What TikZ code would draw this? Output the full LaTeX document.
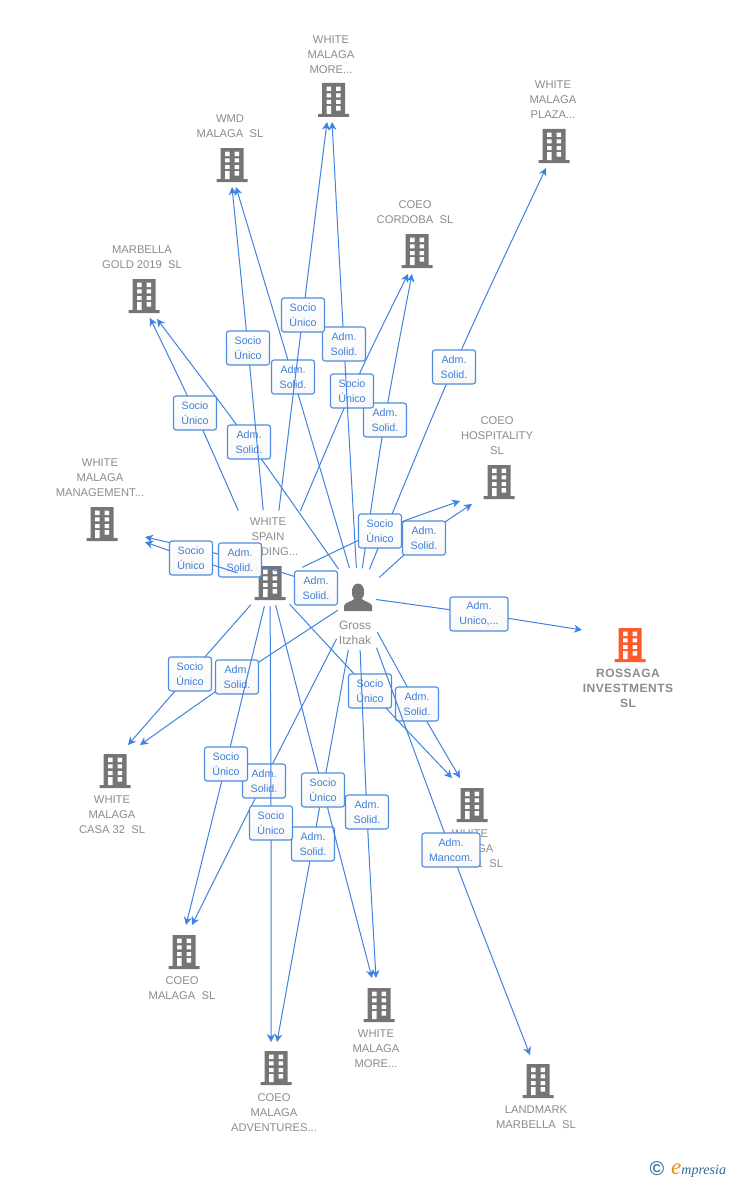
\documentclass[tikz,border=0pt]{standalone}
\usepackage{fontspec}
\setmainfont{Liberation Sans}
\newfontfamily\logofont{Liberation Serif}
\newfontfamily\spacedbold[LetterSpace=4,BoldFont={Liberation Sans Bold}]{Liberation Sans}
\usetikzlibrary{calc,arrows.meta,shadings}
\definecolor{edgeblue}{HTML}{3F82E0}
\definecolor{lbltext}{HTML}{3F7FD8}
\definecolor{lblrule}{HTML}{4E8CDF}
\definecolor{icongrey}{HTML}{757575}
\definecolor{txtgrey}{HTML}{8C8C8C}
\definecolor{redicon}{HTML}{FF5A2B}
\definecolor{logoteal}{HTML}{3F7F9A}
\definecolor{logoblue}{HTML}{2F6A92}
\definecolor{logoorange}{HTML}{F08A1D}
\tikzset{
  linkline/.style={draw=edgeblue,line width=1pt,-{Stealth[length=8pt,width=8pt,inset=2.5pt]}},
  lbl/.style={draw=lblrule,line width=1.1pt,rounded corners=2.5pt,top color=white,bottom color=black!3,
    text=lbltext,font=\fontsize{10.7}{15}\selectfont,align=center,minimum width=43pt,minimum height=34pt,inner sep=0pt},
  captxt/.style={text=txtgrey,font=\fontsize{11.2}{15}\selectfont,align=center,inner sep=0pt},
  bldg/.style={minimum width=32pt,minimum height=35pt,inner sep=0pt,
    path picture={\begin{scope}[shift={(path picture bounding box.center)}]
      \fill[#1] (-11.5,-17) rectangle (11.5,14) (-15.5,14) rectangle (15.5,17);
      \fill[white] (-7,-13.3) rectangle (-2.5,-9) (2.5,-13.3) rectangle (7,-9)
        (-7,-6.7) rectangle (-2.5,-2.7) (2.5,-6.7) rectangle (7,-2.7)
        (-7,0) rectangle (-2.5,4) (2.5,0) rectangle (7,4)
        (-7,6) rectangle (-2.5,14) (2.5,6) rectangle (7,10.7);
    \end{scope}}},
  persona/.style={minimum width=30pt,minimum height=32pt,inner sep=0pt,
    path picture={\begin{scope}[shift={(path picture bounding box.center)}]
      \fill[icongrey] (0,-5) ellipse [x radius=6.2,y radius=8.5];
      \fill[icongrey] (-14,14) -- (-14,9) .. controls (-13,5) and (-7,5) .. (-4,2) -- (4,2) .. controls (7,5) and (13,5) .. (14,9) -- (14,14) -- cycle;
    \end{scope}}}
}
% shorten, source, label name, label position, label text, arrow end
\newcommand{\link}[6]{%
  \coordinate (#3c) at (#4);
  \draw[linkline,shorten <=#1pt] (#2.center) .. controls ($1.3333*(#3c)-0.1667*(#2.center)-0.1667*(#6)$) .. (#6);
  \node[lbl] (#3) at (#3c) {#5};
}
\newcommand{\sun}{Socio\\Único}
\newcommand{\ads}{Adm.\\Solid.}
\begin{document}
\begin{tikzpicture}[x=1pt,y=-1pt]
\useasboundingbox (0,0) rectangle (728,1180);
\fill[white] (0,0) rectangle (728,1180);
% buildings
\node[bldg=icongrey] (wmtop) at (333.5,100) {};
\node[bldg=icongrey] (plaza) at (554,146) {};
\node[bldg=icongrey] (wmd) at (232,165) {};
\node[bldg=icongrey] (cordoba) at (417,251) {};
\node[bldg=icongrey] (gold) at (144,296) {};
\node[bldg=icongrey] (hosp) at (499,482) {};
\node[bldg=icongrey] (mgmt) at (102,524) {};
\node[bldg=icongrey] (ws) at (270,583) {};
\node[bldg=redicon] (rossaga) at (630,645) {};
\node[bldg=icongrey] (casa) at (115,771) {};
\node[bldg=icongrey] (wmse) at (472,805) {};
\node[bldg=icongrey] (cmal) at (184,952) {};
\node[bldg=icongrey] (wmbot) at (379,1005) {};
\node[bldg=icongrey] (adv) at (276,1068) {};
\node[bldg=icongrey] (land) at (538,1081) {};
\node[persona] (gross) at (358,597) {};
% captions
\node[captxt] (c1) at (331,55) {WHITE\\MALAGA\\MORE...};
\node[captxt] (c2) at (553,100) {WHITE\\MALAGA\\PLAZA...};
\node[captxt] (c3) at (230,126.5) {WMD\\MALAGA\ \ SL};
\node[captxt] (c4) at (415,212.5) {COEO\\CORDOBA\ \ SL};
\node[captxt] (c5) at (142,257.5) {MARBELLA\\GOLD 2019\ \ SL};
\node[captxt] (c6) at (497,436) {COEO\\HOSPITALITY\\SL};
\node[captxt] (c7) at (100,478) {WHITE\\MALAGA\\MANAGEMENT...};
\node[captxt] (c8) at (268,537) {WHITE\\SPAIN\\HOLDING...};
\node[text=txtgrey,font=\fontsize{12}{15}\selectfont\spacedbold\bfseries,align=center,inner sep=0pt] (c9) at (628,688) {ROSSAGA\\INVESTMENTS\\SL};
\node[captxt] (c10) at (112,815) {WHITE\\MALAGA\\CASA 32\ \ SL};
\node[captxt] (c11) at (470,849) {WHITE\\MALAGA\\CASA 31\ \ SL};
\node[captxt] (c12) at (182,988.5) {COEO\\MALAGA\ \ SL};
\node[captxt] (c13) at (376,1049) {WHITE\\MALAGA\\MORE...};
\node[captxt] (c14) at (274,1113) {COEO\\MALAGA\\ADVENTURES...};
\node[captxt] (c15) at (536,1117.5) {LANDMARK\\MARBELLA\ \ SL};
\node[text=txtgrey,font=\fontsize{12}{15}\selectfont,align=center,inner sep=0pt] (c16) at (355,632.5) {Gross\\Itzhak};
% arrow ends
\coordinate (e1) at (157,319); \coordinate (e2) at (150,318);
\coordinate (e3) at (236,187); \coordinate (e4) at (232,187);
\coordinate (e5) at (412,274); \coordinate (e6) at (408,274);
\coordinate (e7) at (332,122); \coordinate (e8) at (327,122);
\coordinate (e9) at (546,168);
\coordinate (e10) at (472,504); \coordinate (e11) at (460,501);
\coordinate (e12) at (145,537); \coordinate (e13) at (145,542);
\coordinate (e14) at (140,745); \coordinate (e15) at (128,745);
\coordinate (e16) at (192,925); \coordinate (e17) at (186,925);
\coordinate (e18) at (277,1042); \coordinate (e19) at (271,1042);
\coordinate (e20) at (460,778); \coordinate (e21) at (452,778);
\coordinate (e22) at (376,978); \coordinate (e23) at (372,978);
\coordinate (e24) at (530,1055);
\coordinate (e25) at (582,630);
% links
\link{34}{gross}{a1}{249,442}{\ads}{e1}
\link{79}{ws}{s1}{195,413}{\sun}{e2}
\link{30}{gross}{a2}{293,377}{\ads}{e3}
\link{73}{ws}{s2}{248,348}{\sun}{e4}
\link{29}{gross}{a3}{385,420}{\ads}{e5}
\link{78}{ws}{s3}{352,391}{\sun}{e6}
\link{29}{gross}{a4}{344,344}{\ads}{e7}
\link{73}{ws}{s4}{303,315}{\sun}{e8}
\link{30}{gross}{a5}{454,367}{\ads}{e9}
\link{29}{gross}{a6}{424,538}{\ads}{e10}
\link{36}{ws}{s6}{380,531}{\sun}{e11}
\link{22}{gross}{a7}{240,560}{\ads}{e12}
\link{34}{ws}{s7}{191,558}{\sun}{e13}
\node[lbl] (a0) at (316,588) {\ads};
\link{24}{gross}{a8}{237,677}{\ads}{e14}
\link{29}{ws}{s8}{190,674}{\sun}{e15}
\link{47}{gross}{a9}{264,781}{\ads}{e16}
\link{24}{ws}{s9}{226,764}{\sun}{e17}
\link{54}{gross}{a10}{313,844}{\ads}{e18}
\link{23}{ws}{s10}{271,823}{\sun}{e19}
\link{40}{gross}{a11}{417,704}{\ads}{e20}
\link{29}{ws}{s11}{370,691}{\sun}{e21}
\link{53}{gross}{a12}{367,812}{\ads}{e22}
\link{23}{ws}{s12}{323,790}{\sun}{e23}
\tikzset{lbl/.append style={minimum width=58pt}}
\link{54}{gross}{a13}{451,850}{Adm.\\Mancom.}{e24}
\link{18}{gross}{a14}{479,614}{Adm.\\Unico,...}{e25}
% logo
\node[text=logoteal,font=\fontsize{20}{20}\selectfont\bfseries,inner sep=0pt] (copy) at (657,1168.5) {©};
\node[anchor=base west,inner sep=0pt,font=\logofont\itshape\fontsize{14}{14}\selectfont,text=logoblue] (logo) at (671,1174)
  {\textcolor{logoorange}{\fontsize{23}{23}\selectfont e}mpresia};
\end{tikzpicture}
\end{document}
